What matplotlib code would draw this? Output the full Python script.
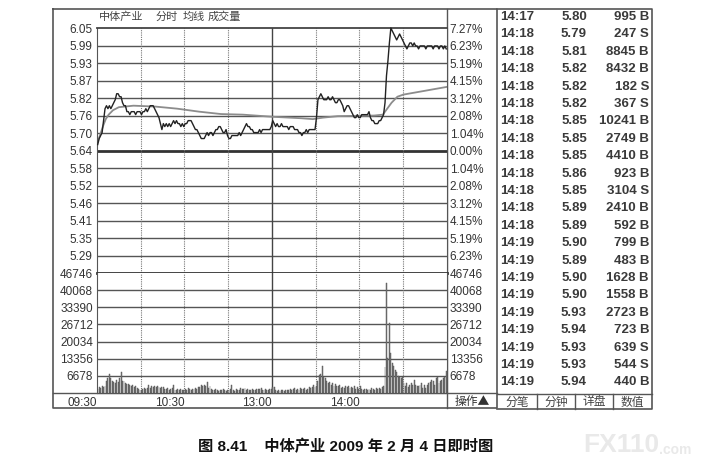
import matplotlib
matplotlib.use('Agg')
import matplotlib.pyplot as plt
import numpy as np

# ---- data ----
prev_close = 5.64
price_labels = ['6.05', '5.99', '5.93', '5.87', '5.82', '5.76', '5.70', '5.64',
                '5.58', '5.52', '5.46', '5.41', '5.35', '5.29']
pct_labels = ['7.27%', '6.23%', '5.19%', '4.15%', '3.12%', '2.08%', '1.04%', '0.00%',
              '1.04%', '2.08%', '3.12%', '4.15%', '5.19%', '6.23%']
vol_labels = ['46746', '40068', '33390', '26712', '20034', '13356', '6678']
time_labels = ['09:30', '10:30', '13:00', '14:00']
time_pos = [0, 60, 120, 180]

# one price per minute, 240 minutes
price = [5.66, 5.68, 5.69, 5.70, 5.74, 5.78, 5.79, 5.78, 5.79, 5.78,
         5.79, 5.80, 5.81, 5.83, 5.83, 5.82, 5.82, 5.80, 5.79, 5.79,
         5.77, 5.77, 5.76, 5.77, 5.77, 5.77, 5.76, 5.77, 5.77, 5.77,
         5.76, 5.77, 5.77, 5.78, 5.77, 5.78, 5.79, 5.79, 5.79, 5.78,
         5.77, 5.76, 5.75, 5.73, 5.71, 5.73, 5.72, 5.73, 5.72, 5.73,
         5.72, 5.73, 5.74, 5.73, 5.74, 5.73, 5.73, 5.72, 5.73, 5.72,
         5.73, 5.73, 5.74, 5.74, 5.74, 5.73, 5.72, 5.71, 5.71, 5.70,
         5.69, 5.68, 5.68, 5.68, 5.69, 5.70, 5.69, 5.70, 5.70, 5.69,
         5.70, 5.71, 5.71, 5.72, 5.72, 5.71, 5.70, 5.70, 5.71, 5.69,
         5.68, 5.68, 5.69, 5.69, 5.69, 5.69, 5.69, 5.70, 5.69, 5.70,
         5.71, 5.72, 5.73, 5.72, 5.72, 5.71, 5.71, 5.70, 5.70, 5.70,
         5.70, 5.71, 5.70, 5.71, 5.71, 5.71, 5.71, 5.71, 5.71, 5.72,
         5.74, 5.73, 5.72, 5.73, 5.72, 5.72, 5.73, 5.72, 5.72, 5.72,
         5.72, 5.71, 5.72, 5.72, 5.72, 5.71, 5.71, 5.71, 5.70, 5.70,
         5.69, 5.70, 5.70, 5.71, 5.70, 5.71, 5.71, 5.71, 5.71, 5.71,
         5.75, 5.81, 5.82, 5.83, 5.82, 5.81, 5.81, 5.81, 5.82, 5.81,
         5.81, 5.82, 5.81, 5.80, 5.80, 5.81, 5.81, 5.80, 5.79, 5.77,
         5.78, 5.79, 5.79, 5.78, 5.77, 5.76, 5.75, 5.75, 5.76, 5.75,
         5.75, 5.76, 5.76, 5.76, 5.76, 5.76, 5.77, 5.75, 5.74, 5.74,
         5.73, 5.73, 5.73, 5.74, 5.74, 5.75, 5.76, 5.80, 5.89, 5.94,
         6.00, 6.05, 6.04, 6.03, 6.02, 6.01, 6.02, 6.03, 6.02, 6.01,
         6.00, 5.99, 5.98, 5.99, 6.00, 6.00, 5.99, 6.00, 5.99, 5.99,
         5.98, 5.99, 5.99, 5.99, 5.99, 5.98, 5.99, 5.99, 5.99, 5.99,
         5.98, 5.99, 5.99, 5.99, 5.98, 5.99, 5.99, 5.98, 5.99, 5.98]

# average price line (minute, value)
avg_t = [0, 2, 4, 6, 8, 11, 15, 25, 40, 55, 70, 85, 100, 120, 140, 148,
         155, 165, 190, 196, 199, 202, 206, 210, 240]
avg_v = [5.665, 5.69, 5.72, 5.745, 5.76, 5.775, 5.785, 5.79, 5.787, 5.78,
         5.77, 5.762, 5.76, 5.753, 5.748, 5.745, 5.75, 5.755, 5.757, 5.76,
         5.78, 5.80, 5.82, 5.827, 5.853]

# volume per minute
volume = [1500, 2200, 2000, 2600, 2300, 2800, 4500, 5800, 7300, 5800,
          4800, 4200, 3800, 5100, 4300, 5800, 8000, 4700, 4600, 3800,
          3500, 3600, 3200, 2600, 3300, 2500, 2800, 2100, 1500, 1300,
          1200, 1700, 1900, 1500, 2100, 3200, 1800, 2600, 2500, 2700,
          2400, 2600, 2500, 2000, 2500, 2200, 1600, 1400, 1900, 1300,
          1500, 1800, 3200, 1200, 1000, 1400, 1100, 1600, 1200, 1000,
          1500, 1300, 1800, 1500, 1200, 1600, 1400, 1900, 1700, 2200,
          2500, 3100, 2700, 3300, 2900, 4100, 2000, 2700, 1500, 1300,
          1100, 1600, 1200, 900, 1300, 1000, 1500, 1100, 900, 1200,
          1000, 1400, 3200, 1100, 900, 1500, 1200, 1000, 1800, 1600,
          1400, 2000, 1300, 1500, 1100, 1200, 1700, 1300, 1000, 1500,
          1600, 1400, 1800, 1200, 1100, 1500, 1300, 1000, 1700, 1400,
          2500, 2200, 1200, 900, 1100, 800, 1000, 1200, 900, 1000,
          1300, 1100, 1500, 1200, 1700, 1900, 1300, 1500, 1200, 2000,
          1600, 1400, 2100, 1300, 1500, 2200, 1900, 2500, 3000, 2200,
          2600, 4500, 6900, 7300, 10600, 6400, 5800, 4800, 3800, 4200,
          3200, 3900, 2600, 3500, 2900, 2600, 3300, 2100, 2500, 1900,
          2700, 2200, 2800, 1800, 2400, 2000, 2600, 1700, 2300, 1600,
          2900, 1500, 1300, 1700, 1400, 1200, 1600, 1300, 1900, 1400,
          1200, 1800, 1500, 2100, 1700, 2300, 2700, 10200, 42900, 13600,
          27300, 15600, 11700, 10400, 9100, 8000, 6700, 6200, 5800, 6400,
          3900, 2900, 3900, 2400, 3300, 3900, 3300, 5200, 3300, 2600,
          2600, 3300, 3900, 2000, 3300, 2000, 3300, 3900, 4200, 5200,
          4500, 3300, 5800, 6400, 3900, 4600, 5200, 5800, 6200, 8400]

# trade list on the right
tick_time = ['14:17', '14:18', '14:18', '14:18', '14:18', '14:18', '14:18', '14:18',
             '14:18', '14:18', '14:18', '14:18', '14:18', '14:19', '14:19', '14:19',
             '14:19', '14:19', '14:19', '14:19', '14:19', '14:19']
tick_price = ['5.80', '5.79', '5.81', '5.82', '5.82', '5.82', '5.85', '5.85',
              '5.85', '5.86', '5.85', '5.89', '5.89', '5.90', '5.89', '5.90',
              '5.90', '5.93', '5.94', '5.93', '5.93', '5.94']
tick_vol = [995, 247, 8845, 8432, 182, 367, 10241, 2749, 4410, 923, 3104,
            2410, 592, 799, 483, 1628, 1558, 2723, 723, 639, 544, 440]
tick_side = ['B', 'S', 'B', 'B', 'S', 'S', 'B', 'B', 'B', 'B', 'S',
             'B', 'B', 'B', 'B', 'B', 'B', 'B', 'B', 'S', 'S', 'B']
buttons = ['分笔', '分钟', '详盘', '数值']

# ---- figure ----
W, H = 726, 471
fig = plt.figure(figsize=(W / 100, H / 100), dpi=100)
fig.patch.set_facecolor('white')

cjk = ['Noto Sans CJK SC', 'DejaVu Sans']
latin = ['Liberation Sans', 'Noto Sans CJK SC']
grid_c = '#555555'
txt_c = '#333333'


def axes_px(x0, y0, x1, y1):
    return fig.add_axes([x0 / W, 1 - y1 / H, (x1 - x0) / W, (y1 - y0) / H])


# frame / overlay in pixel coords
bg = fig.add_axes([0, 0, 1, 1])
bg.set_xlim(0, W)
bg.set_ylim(H, 0)
bg.axis('off')
bg.set_zorder(-1)

ptop = float(price_labels[0])
step = (ptop - prev_close) / 7
price_ticks = [prev_close + step * (7 - i) for i in range(len(price_labels))]
pbottom = prev_close - step * 7

# price panel
axp = axes_px(97, 28, 447, 273)
axp.set_xlim(0, 240)
axp.set_ylim(pbottom, ptop)
for t in price_ticks[1:]:
    if abs(t - prev_close) < 1e-6:
        axp.axhline(t, color='#333333', lw=2.0, zorder=1)
    else:
        axp.axhline(t, color=grid_c, lw=1.0, zorder=1)
for m in [30, 60, 90, 150, 180, 210]:
    axp.axvline(m, color='#777777', lw=0.8, ls=(0, (1, 1)), zorder=1)
axp.axvline(120, color='#444444', lw=1.0, zorder=1)
axp.plot(np.arange(240) + 0.5, price, color='#222222', lw=1.0, zorder=3, clip_on=False)
axp.plot(avg_t, avg_v, color='#8c8c8c', lw=1.3, zorder=2)
axp.set_xticks([])
axp.set_yticks(price_ticks)
axp.set_yticklabels(price_labels, family=latin)
axp.tick_params(axis='y', length=0, labelsize=8.5, colors=txt_c, pad=3)
for s in ['left', 'right']:
    axp.spines[s].set_color(grid_c)
axp.spines['top'].set_color('#444444')
axp.spines['top'].set_linewidth(1.3)
axp.spines['bottom'].set_color('#333333')
axp.spines['bottom'].set_linewidth(2.0)

axp2 = axp.twinx()
axp2.set_ylim(pbottom, ptop)
axp2.set_yticks(price_ticks)
axp2.set_yticklabels(pct_labels, family=latin)
axp2.tick_params(axis='y', length=0, labelsize=8.5, colors=txt_c, pad=2)
for s in axp2.spines.values():
    s.set_visible(False)

# volume panel
vol_ticks = [int(v) for v in vol_labels]
axv = axes_px(97, 273, 447, 393)
axv.set_xlim(0, 240)
axv.set_ylim(0, vol_ticks[0])
for t in vol_ticks[1:]:
    axv.axhline(t, color=grid_c, lw=1.0, zorder=1)
for m in [30, 60, 90, 150, 180, 210]:
    axv.axvline(m, color='#777777', lw=0.8, ls=(0, (1, 1)), zorder=1)
axv.axvline(120, color='#444444', lw=1.0, zorder=1)
axv.bar(np.arange(240) + 0.5, volume, width=0.65, color='#7a7a7a',
        edgecolor='#505050', linewidth=0.3, zorder=2)
axv.set_yticks(vol_ticks)
axv.set_yticklabels(vol_labels, family=latin)
axv.tick_params(axis='y', length=0, labelsize=8.5, colors=txt_c, pad=3)
axv.set_xticks(time_pos)
axv.set_xticklabels(time_labels, family=latin)
for lbl in axv.get_xticklabels():
    lbl.set_ha('right')
axv.tick_params(axis='x', length=0, labelsize=8.5, colors=txt_c, pad=3)
axv.spines['top'].set_visible(False)
for s in ['left', 'right', 'bottom']:
    axv.spines[s].set_color(grid_c)

axv2 = axv.twinx()
axv2.set_ylim(0, vol_ticks[0])
axv2.set_yticks(vol_ticks)
axv2.set_yticklabels(vol_labels, family=latin)
axv2.tick_params(axis='y', length=0, labelsize=8.5, colors=txt_c, pad=2)
for s in axv2.spines.values():
    s.set_visible(False)

# outer frame of the chart
fc = '#555555'
bg.plot([53, 497, 497, 53, 53], [9, 9, 408, 408, 9], color=fc, lw=1.2)
bg.plot([447, 447], [9, 408], color=fc, lw=1.0)
bg.plot([53, 497], [393, 393], color=fc, lw=1.0)

# header
for s, x in zip(['中体产业', '分时', '均线', '成交量'], [99, 156, 183, 208]):
    bg.text(x, 17, s, fontsize=8, family=cjk, color='#444444', va='center', ha='left')
bg.text(472, 401, '操作▲', fontsize=8.5, family=cjk, color=txt_c, va='center', ha='center')

# trade list
bg.plot([497, 652, 652, 497], [9, 9, 409, 409], color=fc, lw=1.2)
bg.plot([497, 652], [394, 394], color=fc, lw=1.0)
for i in range(len(tick_time)):
    y = 17 + i * 17.4
    bg.text(500, y, tick_time[i], fontsize=9.5, weight='bold', family=latin,
            color='#3a3a3a', va='center', ha='left')
    bg.text(587, y, tick_price[i], fontsize=9.5, weight='bold', family=latin,
            color='#3a3a3a', va='center', ha='right')
    bg.text(649, y, '%d %s' % (tick_vol[i], tick_side[i]), fontsize=9.5, weight='bold',
            family=latin, color='#3a3a3a', va='center', ha='right')
bx = [497, 537, 575, 613, 652]
for j, b in enumerate(buttons):
    bg.text((bx[j] + bx[j + 1]) / 2, 402, b, fontsize=8.5, family=cjk, color='#444444',
            va='center', ha='center')
    if j > 0:
        bg.plot([bx[j], bx[j]], [394, 409], color=fc, lw=1.0)

# caption and watermark
bg.text(346, 447, '图 8.41    中体产业 2009 年 2 月 4 日即时图', fontsize=11, weight='bold',
        family=latin, color='#111111', va='center', ha='center')
bg.text(583, 445, 'FX110', fontsize=19, weight='bold', family=latin, color='#e9e9e9',
        va='center', ha='left')
bg.text(659, 450, '.com', fontsize=10, weight='bold', family=latin, color='#e9e9e9',
        va='center', ha='left')

fig.savefig('out.png', dpi=100, facecolor='white')
